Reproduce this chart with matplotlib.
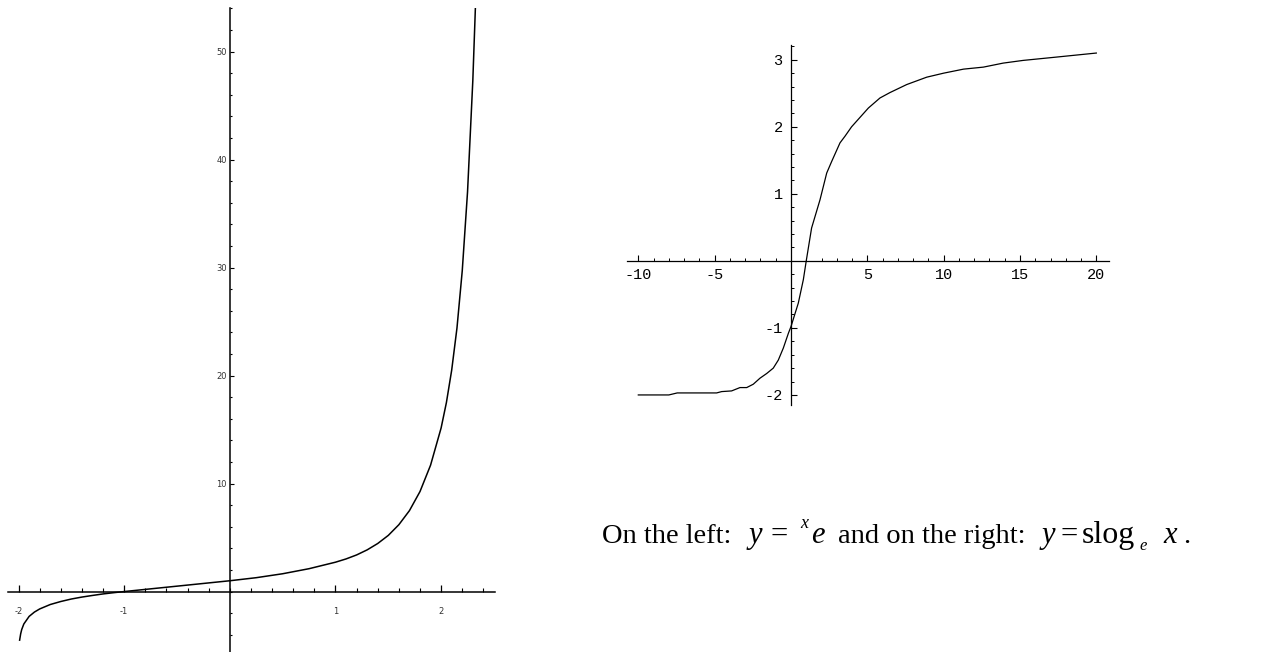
import matplotlib
matplotlib.use("Agg")
import matplotlib.pyplot as plt
from matplotlib.ticker import FixedLocator, MultipleLocator

plt.rcParams['axes.unicode_minus'] = False

# left curve: y = ^x e
tet_x = [-1.99, -1.98, -1.97, -1.95, -1.9, -1.85, -1.8, -1.7, -1.6, -1.5, -1.4,
         -1.3, -1.2, -1.1, -1.0, -0.5, 0.0, 0.25, 0.5, 0.75, 1.0, 1.1, 1.2, 1.3,
         1.4, 1.5, 1.6, 1.7, 1.8, 1.9, 2.0, 2.05, 2.1, 2.15, 2.2, 2.25, 2.3, 2.33]
tet_y = [-4.5, -3.91, -3.51, -3.0, -2.30, -1.90, -1.61, -1.20, -0.92, -0.69, -0.51,
         -0.36, -0.22, -0.105, 0.0, 0.5, 1.0, 1.284, 1.649, 2.117, 2.718, 3.02, 3.39, 3.86,
         4.45, 5.20, 6.19, 7.49, 9.26, 11.7, 15.15, 17.5, 20.5, 24.4, 29.7, 37.0, 47.3, 55.6]

# right curve: y = slog_e x
slog_x = [-10, -8.0, -7.45, -4.87, -4.54, -3.89, -3.34, -2.9, -2.47, -2.03, -1.59,
          -1.16, -0.83, -0.5, -0.17, 0.0, 0.48, 0.81, 1.0, 1.35, 1.9, 2.34, 2.66,
          3.21, 3.54, 3.97, 4.52, 5.07, 5.83, 6.48, 7.58, 8.89, 10.0, 11.3, 12.6,
          13.9, 15.2, 17.4, 20.0]
slog_y = [-2.0, -2.0, -1.97, -1.97, -1.95, -1.94, -1.89, -1.89, -1.84, -1.75, -1.68,
          -1.60, -1.48, -1.30, -1.08, -0.98, -0.63, -0.28, 0.0, 0.49, 0.91, 1.31, 1.48,
          1.76, 1.86, 2.0, 2.14, 2.28, 2.43, 2.51, 2.63, 2.74, 2.80, 2.86, 2.89,
          2.95, 2.99, 3.04, 3.10]

left_xticks = [-2, -1, 1, 2]
left_yticks = [10, 20, 30, 40, 50]
right_xticks = [-10, -5, 5, 10, 15, 20]
right_yticks = [-2, -1, 1, 2, 3]

W, H = 1261, 652
fig = plt.figure(figsize=(W / 100, H / 100), dpi=100)


def cross_axes(ax):
    for s in ('top', 'right'):
        ax.spines[s].set_visible(False)
    ax.spines['left'].set_position(('data', 0))
    ax.spines['bottom'].set_position(('data', 0))
    ax.patch.set_alpha(0)


# left panel
ax1 = fig.add_axes([8 / W, 0.5 / H, 487 / W, 643.2 / H])
ax1.plot(tet_x, tet_y, color='black', lw=1.1)
ax1.set_xlim(-2.1, 2.51)
ax1.set_ylim(-5.55, 54.0)
cross_axes(ax1)
for s in ('left', 'bottom'):
    ax1.spines[s].set_linewidth(1.1)
ax1.xaxis.set_major_locator(FixedLocator(left_xticks))
ax1.yaxis.set_major_locator(FixedLocator(left_yticks))
ax1.xaxis.set_minor_locator(FixedLocator([i * 0.2 - 2 for i in range(23)]))
ax1.yaxis.set_minor_locator(MultipleLocator(2))
ax1.tick_params(axis='x', which='major', direction='in', length=5, width=0.9,
                pad=11, labelsize=6, labelcolor='#333333')
ax1.tick_params(axis='x', which='minor', direction='in', length=3, width=0.8)
ax1.tick_params(axis='y', which='major', direction='in', length=3, width=0.8,
                pad=2, labelsize=6, labelcolor='#333333')
ax1.tick_params(axis='y', which='minor', direction='in', length=1.5, width=0.8)

# right panel
ax2 = fig.add_axes([626.7 / W, 247 / H, 482.3 / W, 360 / H])
ax2.plot(slog_x, slog_y, color='black', lw=0.9)
ax2.set_xlim(-10.76, 20.83)
ax2.set_ylim(-2.15, 3.22)
cross_axes(ax2)
for s in ('left', 'bottom'):
    ax2.spines[s].set_linewidth(0.9)
ax2.xaxis.set_major_locator(FixedLocator(right_xticks))
ax2.yaxis.set_major_locator(FixedLocator(right_yticks))
ax2.xaxis.set_minor_locator(MultipleLocator(1))
ax2.yaxis.set_minor_locator(MultipleLocator(0.2))
ax2.tick_params(axis='x', which='major', direction='in', length=4.5, width=0.8, pad=5)
ax2.tick_params(axis='x', which='minor', direction='in', length=2.5, width=0.7)
ax2.tick_params(axis='y', which='major', direction='in', length=4, width=0.8, pad=6)
ax2.tick_params(axis='y', which='minor', direction='in', length=2, width=0.7)
ax2.set_xticklabels([str(v) for v in right_xticks], family='Liberation Mono', fontsize=11)
ax2.set_yticklabels([str(v) for v in right_yticks], family='Liberation Mono', fontsize=11)

# caption, set piece by piece (x in pixels, baseline shift in pixels, style, size)
base = 543
pieces = [
    ("On the left:", 602, 0, 'normal', 20.5),
    ("y", 749, 0, 'italic', 22),
    ("=", 770, 0, 'normal', 22),
    ("x", 800, -15, 'italic', 13),
    ("e", 811, 0, 'italic', 22),
    ("and on the right:", 838, 0, 'normal', 20.5),
    ("y", 1042, 0, 'italic', 22),
    ("=", 1061, 0, 'normal', 22),
    ("slog", 1082, 0, 'normal', 23),
    ("e", 1139, 7, 'italic', 12),
    ("x", 1163, 0, 'italic', 22),
    (".", 1183, 0, 'normal', 20.5),
]
for txt, px, dy, style, size in pieces:
    fig.text(px / W, 1 - (base + dy) / H, txt, family='Liberation Serif',
             style=style, fontsize=size, ha='left', va='baseline')

fig.savefig('out.png', dpi=100)
